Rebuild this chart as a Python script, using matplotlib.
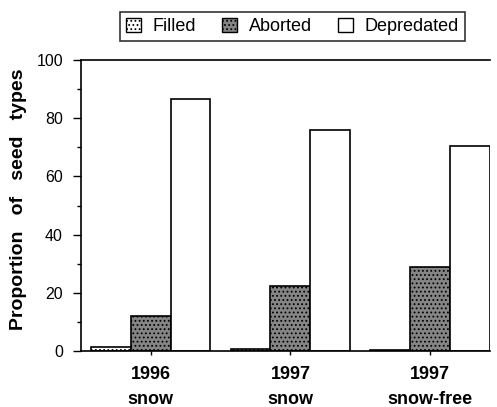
import matplotlib
matplotlib.use("Agg")
import matplotlib.pyplot as plt
import numpy as np
from matplotlib.patches import Patch

plt.rcParams['font.family'] = ['Liberation Sans', 'DejaVu Sans']
plt.rcParams['hatch.linewidth'] = 0.8

categories = ["1996\nsnow", "1997\nsnow", "1997\nsnow-free"]
series_names = ["Filled", "Aborted", "Depredated"]
filled = [1.5, 0.8, 0.3]
aborted = [12, 22.5, 29]
depredated = [86.5, 76, 70.5]
yticks = [0, 20, 40, 60, 80, 100]

fig = plt.figure(figsize=(4.97, 4.07), dpi=100)
ax = fig.add_axes([81/497, 1-351/407, (490-81)/497, (351-60)/407])

x = np.arange(len(categories))
w = 0.285
styles = [
    dict(facecolor='white', hatch='....', edgecolor='black'),
    dict(facecolor='#858585', hatch='....', edgecolor='black'),
    dict(facecolor='white', edgecolor='black'),
]
for i, (vals, st) in enumerate(zip([filled, aborted, depredated], styles)):
    ax.bar(x + (i - 1) * w, vals, w, linewidth=1.2, **st)

ax.set_xlim(-0.5, 2.43)
ax.set_ylim(0, 100)
ax.set_yticks(yticks)
ax.set_yticks(range(10, 100, 20), minor=True)
ax.set_xticks(x)
ax.set_xticklabels(categories, fontweight='bold', fontsize=13, linespacing=1.6)
ax.tick_params(axis='y', labelsize=11.5, direction='out', length=6, width=1, pad=7)
ax.tick_params(axis='y', which='minor', direction='out', length=3, width=1)
ax.tick_params(axis='x', direction='out', length=3, width=1, pad=8)
ax.spines['right'].set_visible(False)
for s in ['left', 'bottom', 'top']:
    ax.spines[s].set_linewidth(1.2)
ax.set_ylabel("Proportion   of   seed   types", fontweight='bold', fontsize=14)
ax.yaxis.set_label_coords(-54/409, (351-199)/291)

handles = [Patch(linewidth=1, **st) for st in styles]
leg = fig.legend(handles, series_names, loc='center', bbox_to_anchor=(292.5/497, 1-26.5/407),
                 ncol=3, frameon=True, fancybox=False, edgecolor='black', fontsize=13,
                 handlelength=0.83, handleheight=0.83, handletextpad=0.65, columnspacing=1.45,
                 borderpad=0.3, borderaxespad=0)
leg.get_frame().set_linewidth(1.2)

fig.savefig("out.png", dpi=100)
